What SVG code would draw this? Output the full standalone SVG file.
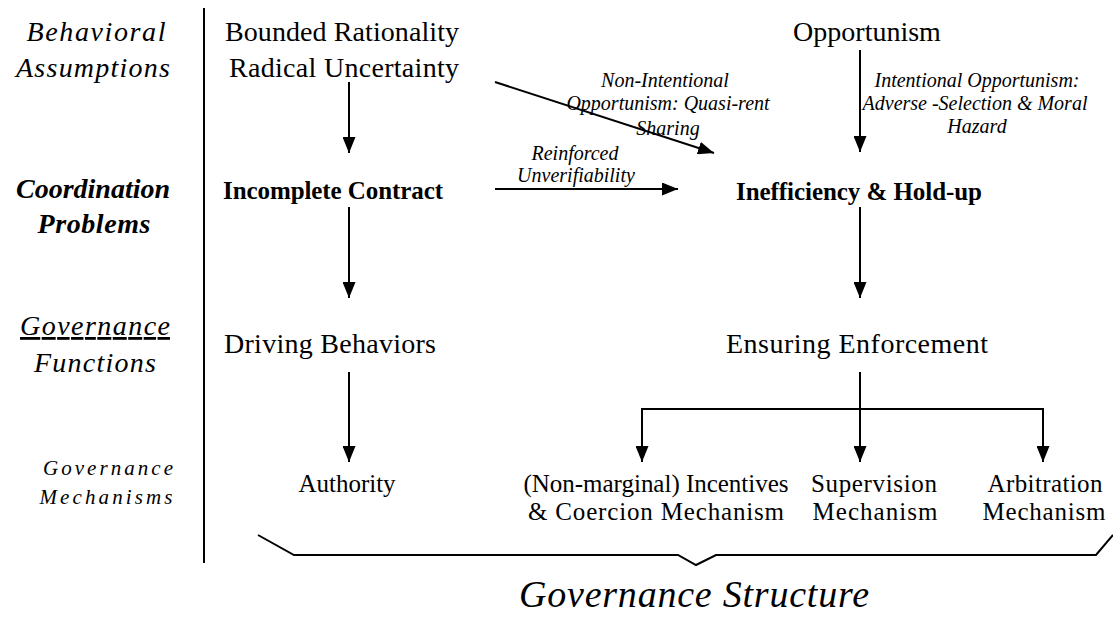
<svg xmlns="http://www.w3.org/2000/svg" width="1113" height="621" viewBox="0 0 1113 621" font-family="'Liberation Serif', 'Times New Roman', serif">
<style>
text{font-family:'Liberation Serif','Times New Roman',serif;fill:#000}
.lab{font-style:italic;font-size:28px;text-anchor:middle}
.labb{font-style:italic;font-weight:bold;font-size:28px;text-anchor:middle}
.labs{font-style:italic;font-size:21px;text-anchor:middle}
.main{font-size:28px;text-anchor:middle}
.bold{font-weight:bold;font-size:25px;text-anchor:middle}
.mech{font-size:25px;text-anchor:middle}
.note{font-style:italic;font-size:20px;text-anchor:middle}
.title{font-style:italic;font-size:38px;text-anchor:middle}
.ln{stroke:#000;stroke-width:2;fill:none}
</style>
<defs>
<marker id="ahl" viewBox="0 0 10 10" refX="10" refY="5" markerWidth="16" markerHeight="13" markerUnits="userSpaceOnUse" orient="auto" preserveAspectRatio="none">
<path d="M0,0 L10,5 L0,10 z" fill="#000"/>
</marker>
</defs>

<g id="row-labels">
<text class="lab" x="96" y="41" textLength="139">Behavioral</text>
<text class="lab" x="93" y="77" textLength="154">Assumptions</text>
<text class="labb" x="93" y="198" textLength="154">Coordination</text>
<text class="labb" x="94" y="233" textLength="113">Problems</text>
<text class="lab" x="95" y="335" textLength="150" text-decoration="underline">Governance</text>
<text class="lab" x="95" y="372" textLength="122">Functions</text>
<text class="labs" x="108" y="475" textLength="130">Governance</text>
<text class="labs" x="106" y="504" textLength="133">Mechanisms</text>
</g>
<line id="divider" class="ln" x1="204" y1="8" x2="204" y2="563"/>

<g id="n-bounded"><text class="main" x="342" y="41" textLength="234">Bounded Rationality</text><text class="main" x="344" y="77" textLength="230">Radical Uncertainty</text></g>
<g id="n-opportunism"><text class="main" x="867" y="41">Opportunism</text></g>
<g id="n-incomplete"><text class="bold" x="333" y="199" textLength="220">Incomplete Contract</text></g>
<g id="n-inefficiency"><text class="bold" x="859" y="200" textLength="246">Inefficiency &amp; Hold-up</text></g>
<g id="n-driving"><text class="main" x="330" y="353" textLength="212">Driving Behaviors</text></g>
<g id="n-ensuring"><text class="main" x="857" y="353" textLength="262">Ensuring Enforcement</text></g>
<g id="n-authority"><text class="mech" x="347" y="492">Authority</text></g>
<g id="n-incentives"><text class="mech" x="656" y="492" textLength="265">(Non-marginal) Incentives</text><text class="mech" x="656" y="520" textLength="256">&amp; Coercion Mechanism</text></g>
<g id="n-supervision"><text class="mech" x="874" y="492" textLength="126">Supervision</text><text class="mech" x="875" y="520" textLength="125">Mechanism</text></g>
<g id="n-arbitration"><text class="mech" x="1045" y="492" textLength="115">Arbitration</text><text class="mech" x="1044" y="520" textLength="123">Mechanism</text></g>

<g id="connectors">
<line class="ln" x1="349" y1="82" x2="349" y2="153" marker-end="url(#ahl)"/>
<line class="ln" x1="349" y1="207" x2="349" y2="298" marker-end="url(#ahl)"/>
<line class="ln" x1="349" y1="372" x2="349" y2="462" marker-end="url(#ahl)"/>
<line class="ln" x1="860" y1="50" x2="860" y2="152" marker-end="url(#ahl)"/>
<line class="ln" x1="495" y1="82" x2="714" y2="153" marker-end="url(#ahl)"/>
<line class="ln" x1="495" y1="189" x2="678" y2="189" marker-end="url(#ahl)"/>
<line class="ln" x1="860" y1="207" x2="860" y2="298" marker-end="url(#ahl)"/>
<line class="ln" x1="860" y1="372" x2="860" y2="462" marker-end="url(#ahl)"/>
<polyline class="ln" points="642,440 642,409 1043,409 1043,440"/>
<line class="ln" x1="642" y1="430" x2="642" y2="462" marker-end="url(#ahl)"/>
<line class="ln" x1="1043" y1="430" x2="1043" y2="462" marker-end="url(#ahl)"/>
<text class="note" x="665" y="87">Non-Intentional</text>
<text class="note" x="668" y="110">Opportunism: Quasi-rent</text>
<text class="note" x="668" y="135">Sharing</text>
<text class="note" x="575" y="160">Reinforced</text>
<text class="note" x="576" y="182">Unverifiability</text>
<text class="note" x="977" y="87">Intentional Opportunism:</text>
<text class="note" x="975" y="110">Adverse -Selection &amp; Moral</text>
<text class="note" x="977" y="133">Hazard</text>
</g>

<g id="brace">
<polyline class="ln" points="258,535 294,555 678,555 696,565 716,555 1096,555 1113,535"/>
<text class="title" x="694" y="607" textLength="350">Governance Structure</text>
</g>
</svg>
